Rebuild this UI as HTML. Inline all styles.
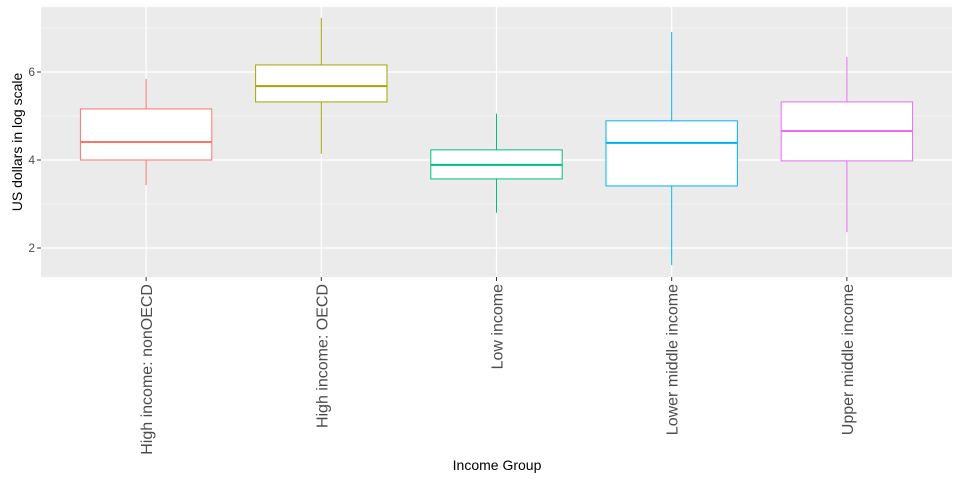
<!DOCTYPE html>
<html><head><meta charset="utf-8"><style>
body{margin:0;background:#fff;}
svg text{font-family:"Liberation Sans",Arial,sans-serif;}
</style></head><body>
<svg id="chart" width="960" height="480" xmlns="http://www.w3.org/2000/svg">
<rect x="41" y="7" width="911" height="270" fill="#ebebeb"/>
<g id="grid"></g>
<g id="boxes"></g>
<g id="axes"></g>
<text x="497" y="470" font-size="14" text-anchor="middle" fill="#000">Income Group</text>
<text transform="translate(22,142) rotate(-90)" font-size="14" text-anchor="middle" fill="#000">US dollars in log scale</text>
</svg>
<script>
const categories=["High income: nonOECD","High income: OECD","Low income","Lower middle income","Upper middle income"];
const colors=["#F8766D","#A3A500","#00BF7D","#00B0F6","#E76BF3"];
const lows=[3.43,4.14,2.8,1.61,2.36];
const q1s=[4.0,5.32,3.57,3.41,3.98];
const medians=[4.41,5.68,3.89,4.39,4.66];
const q3s=[5.16,6.16,4.23,4.89,5.32];
const highs=[5.84,7.23,5.05,6.91,6.34];
const yTicks=[2,4,6];
const yMinor=[3,5,7];
const NS="http://www.w3.org/2000/svg";
const L=41,R=952,T=7,B=277;
function y(v){return 248-(v-2)*44;}
const step=(R-L)/(categories.length-1+1.2);
function x(i){return L+step*(0.6+i);}
function mk(tag,attrs,parent){const e=document.createElementNS(NS,tag);for(const k in attrs)e.setAttribute(k,attrs[k]);parent.appendChild(e);return e;}
const grid=document.getElementById('grid'),boxes=document.getElementById('boxes'),axes=document.getElementById('axes');
yMinor.forEach(v=>{const l=mk('line',{x1:L,x2:R,y1:y(v),y2:y(v),stroke:'#fff','stroke-width':0.6},grid);

});
yTicks.forEach(v=>{const l=mk('line',{x1:L,x2:R,y1:y(v),y2:y(v),stroke:'#fff','stroke-width':1.2},grid);


const t=mk('line',{x1:L-4,x2:L,y1:y(v),y2:y(v),stroke:'#333','stroke-width':1},axes);


const tx=mk('text',{x:L-6,y:y(v)+4,'font-size':12,'text-anchor':'end',fill:'#4d4d4d'},axes);tx.textContent=v;

});
const bw=step*0.75;
categories.forEach((c,i)=>{const cx=x(i);
const g=mk('line',{x1:cx,x2:cx,y1:T,y2:B,stroke:'#fff','stroke-width':1.2},grid);


const grp=mk('g',{},boxes);


mk('line',{x1:cx,x2:cx,y1:y(highs[i]),y2:y(q3s[i]),stroke:colors[i],'stroke-width':1},grp);
mk('line',{x1:cx,x2:cx,y1:y(q1s[i]),y2:y(lows[i]),stroke:colors[i],'stroke-width':1},grp);
mk('rect',{x:cx-bw/2,y:y(q3s[i]),width:bw,height:y(q1s[i])-y(q3s[i]),fill:'#fff',stroke:colors[i],'stroke-width':1},grp);
mk('line',{x1:cx-bw/2,x2:cx+bw/2,y1:y(medians[i]),y2:y(medians[i]),stroke:colors[i],'stroke-width':2},grp);
const t=mk('line',{x1:cx,x2:cx,y1:B,y2:B+4,stroke:'#333','stroke-width':1},axes);


const tx=mk('text',{transform:`translate(${cx+6},${B+7}) rotate(-90)`,'font-size':16,'text-anchor':'end',fill:'#4d4d4d'},axes);tx.textContent=c;

});
</script>
</body></html>
